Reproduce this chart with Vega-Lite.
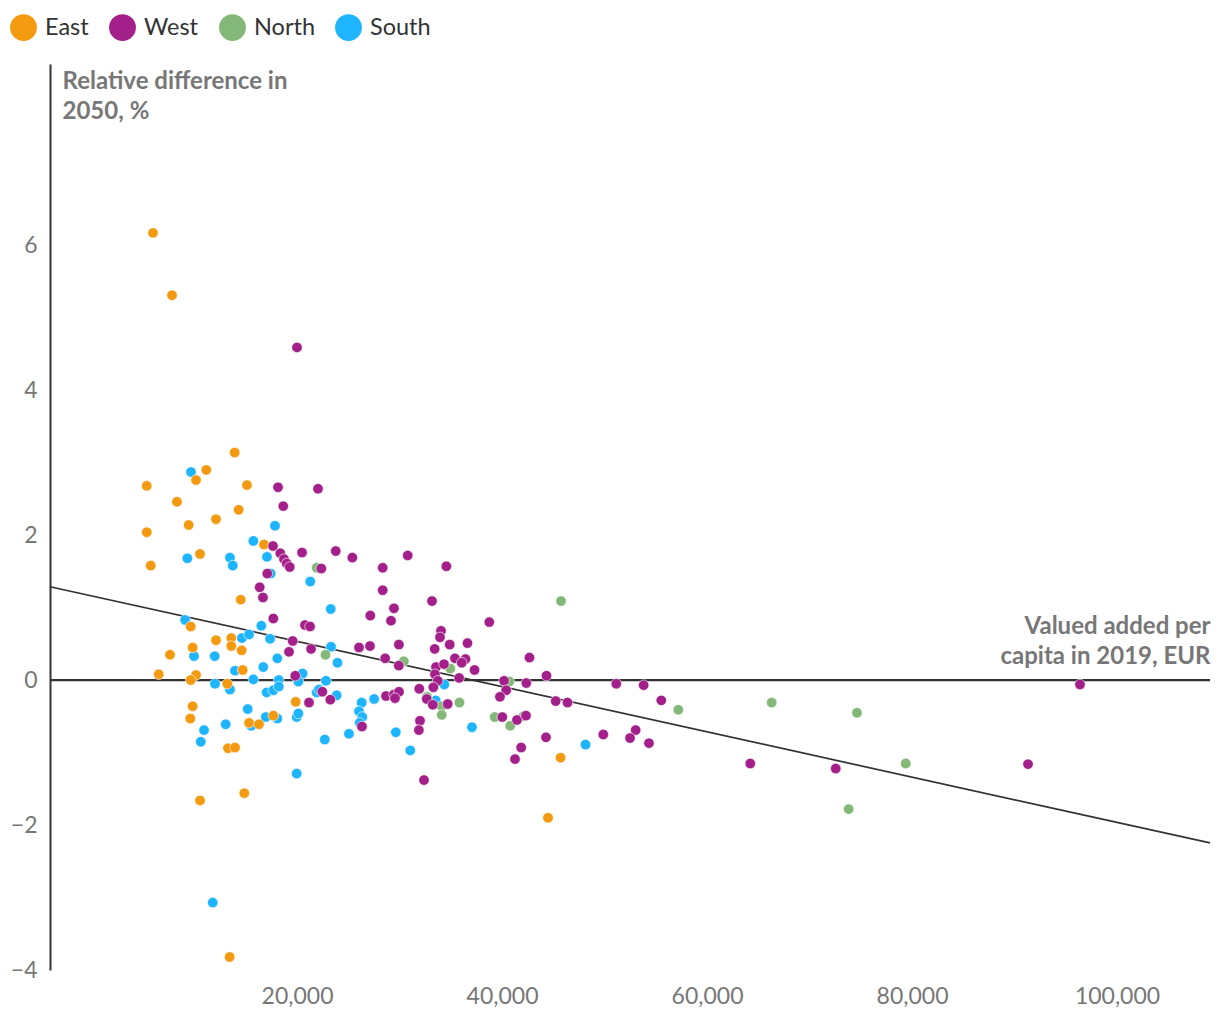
{
  "$schema": "https://vega.github.io/schema/vega-lite/v6.json",
  "width": 1160,
  "height": 906,
  "autosize": {"type": "none"},
  "padding": {"left": 50, "top": 64, "right": 10, "bottom": 52},
  "background": "white",
  "config": {
    "font": "Lato",
    "view": {"stroke": null},
    "axis": {
      "grid": false, "ticks": false, "tickSize": 0,
      "labelFont": "Lato", "labelFontSize": 23, "labelColor": "#777",
      "titleFont": "Lato", "titleFontSize": 24, "titleFontWeight": "bold", "titleColor": "#777"
    }
  },
  "datasets": {
    "zero": [
      {"value_added": -4098, "value_added_end": 109073, "rel_diff": 0}
    ],
    "fit": [
      {"value_added": -4098, "rel_diff": 1.288},
      {"value_added": 109073, "rel_diff": -2.247}
    ],
    "points": [
      {"region":"South","value_added":9660,"rel_diff":2.87},
      {"region":"South","value_added":17850,"rel_diff":2.13},
      {"region":"South","value_added":15740,"rel_diff":1.92},
      {"region":"South","value_added":9300,"rel_diff":1.68},
      {"region":"South","value_added":13460,"rel_diff":1.69},
      {"region":"South","value_added":13730,"rel_diff":1.58},
      {"region":"South","value_added":17070,"rel_diff":1.70},
      {"region":"South","value_added":17430,"rel_diff":1.47},
      {"region":"South","value_added":21290,"rel_diff":1.36},
      {"region":"South","value_added":23290,"rel_diff":0.98},
      {"region":"South","value_added":9090,"rel_diff":0.83},
      {"region":"South","value_added":16520,"rel_diff":0.75},
      {"region":"South","value_added":14630,"rel_diff":0.58},
      {"region":"South","value_added":15320,"rel_diff":0.63},
      {"region":"South","value_added":17370,"rel_diff":0.57},
      {"region":"South","value_added":9950,"rel_diff":0.33},
      {"region":"South","value_added":11970,"rel_diff":0.33},
      {"region":"South","value_added":18080,"rel_diff":0.30},
      {"region":"South","value_added":16710,"rel_diff":0.18},
      {"region":"South","value_added":23320,"rel_diff":0.46},
      {"region":"South","value_added":23950,"rel_diff":0.24},
      {"region":"South","value_added":13950,"rel_diff":0.13},
      {"region":"South","value_added":15740,"rel_diff":0.01},
      {"region":"South","value_added":18220,"rel_diff":0.0},
      {"region":"South","value_added":20540,"rel_diff":0.09},
      {"region":"South","value_added":20130,"rel_diff":-0.02},
      {"region":"South","value_added":22830,"rel_diff":-0.01},
      {"region":"South","value_added":12000,"rel_diff":-0.05},
      {"region":"South","value_added":13460,"rel_diff":-0.13},
      {"region":"South","value_added":17040,"rel_diff":-0.17},
      {"region":"South","value_added":17690,"rel_diff":-0.14},
      {"region":"South","value_added":18220,"rel_diff":-0.09},
      {"region":"South","value_added":21920,"rel_diff":-0.17},
      {"region":"South","value_added":22150,"rel_diff":-0.13},
      {"region":"South","value_added":23870,"rel_diff":-0.21},
      {"region":"South","value_added":26310,"rel_diff":-0.31},
      {"region":"South","value_added":27530,"rel_diff":-0.26},
      {"region":"South","value_added":26050,"rel_diff":-0.43},
      {"region":"South","value_added":26370,"rel_diff":-0.51},
      {"region":"South","value_added":26120,"rel_diff":-0.59},
      {"region":"South","value_added":34370,"rel_diff":-0.06},
      {"region":"South","value_added":33530,"rel_diff":-0.28},
      {"region":"South","value_added":37070,"rel_diff":-0.65},
      {"region":"South","value_added":15190,"rel_diff":-0.40},
      {"region":"South","value_added":13040,"rel_diff":-0.61},
      {"region":"South","value_added":16950,"rel_diff":-0.51},
      {"region":"South","value_added":18080,"rel_diff":-0.53},
      {"region":"South","value_added":19970,"rel_diff":-0.51},
      {"region":"South","value_added":20130,"rel_diff":-0.46},
      {"region":"South","value_added":15540,"rel_diff":-0.63},
      {"region":"South","value_added":10930,"rel_diff":-0.69},
      {"region":"South","value_added":10610,"rel_diff":-0.85},
      {"region":"South","value_added":22710,"rel_diff":-0.82},
      {"region":"South","value_added":25070,"rel_diff":-0.74},
      {"region":"South","value_added":29640,"rel_diff":-0.72},
      {"region":"South","value_added":31050,"rel_diff":-0.97},
      {"region":"South","value_added":48150,"rel_diff":-0.89},
      {"region":"South","value_added":19970,"rel_diff":-1.29},
      {"region":"South","value_added":11780,"rel_diff":-3.07},
      {"region":"East","value_added":5950,"rel_diff":6.17},
      {"region":"East","value_added":7810,"rel_diff":5.31},
      {"region":"East","value_added":13920,"rel_diff":3.14},
      {"region":"East","value_added":11150,"rel_diff":2.90},
      {"region":"East","value_added":10150,"rel_diff":2.76},
      {"region":"East","value_added":5340,"rel_diff":2.68},
      {"region":"East","value_added":15120,"rel_diff":2.69},
      {"region":"East","value_added":8290,"rel_diff":2.46},
      {"region":"East","value_added":14310,"rel_diff":2.35},
      {"region":"East","value_added":12100,"rel_diff":2.22},
      {"region":"East","value_added":9430,"rel_diff":2.14},
      {"region":"East","value_added":5340,"rel_diff":2.04},
      {"region":"East","value_added":16780,"rel_diff":1.87},
      {"region":"East","value_added":10540,"rel_diff":1.74},
      {"region":"East","value_added":5730,"rel_diff":1.58},
      {"region":"East","value_added":14510,"rel_diff":1.11},
      {"region":"East","value_added":9630,"rel_diff":0.74},
      {"region":"East","value_added":12100,"rel_diff":0.55},
      {"region":"East","value_added":13590,"rel_diff":0.58},
      {"region":"East","value_added":13590,"rel_diff":0.47},
      {"region":"East","value_added":9820,"rel_diff":0.45},
      {"region":"East","value_added":7610,"rel_diff":0.35},
      {"region":"East","value_added":14600,"rel_diff":0.41},
      {"region":"East","value_added":6510,"rel_diff":0.08},
      {"region":"East","value_added":10150,"rel_diff":0.07},
      {"region":"East","value_added":9630,"rel_diff":0.0},
      {"region":"East","value_added":14700,"rel_diff":0.14},
      {"region":"East","value_added":13200,"rel_diff":-0.05},
      {"region":"East","value_added":19870,"rel_diff":-0.30},
      {"region":"East","value_added":9820,"rel_diff":-0.36},
      {"region":"East","value_added":9590,"rel_diff":-0.53},
      {"region":"East","value_added":17690,"rel_diff":-0.49},
      {"region":"East","value_added":15320,"rel_diff":-0.59},
      {"region":"East","value_added":16290,"rel_diff":-0.61},
      {"region":"East","value_added":13270,"rel_diff":-0.94},
      {"region":"East","value_added":13950,"rel_diff":-0.93},
      {"region":"East","value_added":14860,"rel_diff":-1.56},
      {"region":"East","value_added":10540,"rel_diff":-1.66},
      {"region":"East","value_added":13430,"rel_diff":-3.82},
      {"region":"East","value_added":45710,"rel_diff":-1.07},
      {"region":"East","value_added":44490,"rel_diff":-1.90},
      {"region":"North","value_added":21920,"rel_diff":1.55},
      {"region":"North","value_added":45760,"rel_diff":1.09},
      {"region":"North","value_added":22780,"rel_diff":0.35},
      {"region":"North","value_added":30420,"rel_diff":0.26},
      {"region":"North","value_added":34950,"rel_diff":0.16},
      {"region":"North","value_added":40710,"rel_diff":-0.02},
      {"region":"North","value_added":32680,"rel_diff":-0.23},
      {"region":"North","value_added":35850,"rel_diff":-0.31},
      {"region":"North","value_added":34120,"rel_diff":-0.36},
      {"region":"North","value_added":34120,"rel_diff":-0.48},
      {"region":"North","value_added":39290,"rel_diff":-0.51},
      {"region":"North","value_added":40800,"rel_diff":-0.63},
      {"region":"North","value_added":42080,"rel_diff":-0.50},
      {"region":"North","value_added":57200,"rel_diff":-0.41},
      {"region":"North","value_added":66310,"rel_diff":-0.31},
      {"region":"North","value_added":74630,"rel_diff":-0.45},
      {"region":"North","value_added":79390,"rel_diff":-1.15},
      {"region":"North","value_added":73820,"rel_diff":-1.78},
      {"region":"West","value_added":20000,"rel_diff":4.59},
      {"region":"West","value_added":18150,"rel_diff":2.66},
      {"region":"West","value_added":22050,"rel_diff":2.64},
      {"region":"West","value_added":18660,"rel_diff":2.40},
      {"region":"West","value_added":17660,"rel_diff":1.85},
      {"region":"West","value_added":18370,"rel_diff":1.75},
      {"region":"West","value_added":20490,"rel_diff":1.76},
      {"region":"West","value_added":18730,"rel_diff":1.67},
      {"region":"West","value_added":19000,"rel_diff":1.61},
      {"region":"West","value_added":19290,"rel_diff":1.56},
      {"region":"West","value_added":17100,"rel_diff":1.47},
      {"region":"West","value_added":22370,"rel_diff":1.54},
      {"region":"West","value_added":16360,"rel_diff":1.28},
      {"region":"West","value_added":16680,"rel_diff":1.14},
      {"region":"West","value_added":17690,"rel_diff":0.85},
      {"region":"West","value_added":23780,"rel_diff":1.78},
      {"region":"West","value_added":25400,"rel_diff":1.69},
      {"region":"West","value_added":30800,"rel_diff":1.72},
      {"region":"West","value_added":34570,"rel_diff":1.57},
      {"region":"West","value_added":28360,"rel_diff":1.55},
      {"region":"West","value_added":28360,"rel_diff":1.24},
      {"region":"West","value_added":33170,"rel_diff":1.09},
      {"region":"West","value_added":29460,"rel_diff":0.99},
      {"region":"West","value_added":27150,"rel_diff":0.89},
      {"region":"West","value_added":29170,"rel_diff":0.82},
      {"region":"West","value_added":38760,"rel_diff":0.80},
      {"region":"West","value_added":20780,"rel_diff":0.76},
      {"region":"West","value_added":21270,"rel_diff":0.74},
      {"region":"West","value_added":34050,"rel_diff":0.68},
      {"region":"West","value_added":33950,"rel_diff":0.59},
      {"region":"West","value_added":26050,"rel_diff":0.45},
      {"region":"West","value_added":27120,"rel_diff":0.47},
      {"region":"West","value_added":29940,"rel_diff":0.49},
      {"region":"West","value_added":34900,"rel_diff":0.49},
      {"region":"West","value_added":36630,"rel_diff":0.51},
      {"region":"West","value_added":21370,"rel_diff":0.43},
      {"region":"West","value_added":28600,"rel_diff":0.30},
      {"region":"West","value_added":29930,"rel_diff":0.20},
      {"region":"West","value_added":35410,"rel_diff":0.30},
      {"region":"West","value_added":36440,"rel_diff":0.29},
      {"region":"West","value_added":36070,"rel_diff":0.24},
      {"region":"West","value_added":33430,"rel_diff":0.43},
      {"region":"West","value_added":33560,"rel_diff":0.18},
      {"region":"West","value_added":34340,"rel_diff":0.22},
      {"region":"West","value_added":37320,"rel_diff":0.14},
      {"region":"West","value_added":42680,"rel_diff":0.31},
      {"region":"West","value_added":33460,"rel_diff":0.08},
      {"region":"West","value_added":35820,"rel_diff":0.03},
      {"region":"West","value_added":44340,"rel_diff":0.06},
      {"region":"West","value_added":33730,"rel_diff":-0.01},
      {"region":"West","value_added":40200,"rel_diff":-0.01},
      {"region":"West","value_added":42370,"rel_diff":-0.04},
      {"region":"West","value_added":33300,"rel_diff":-0.10},
      {"region":"West","value_added":31930,"rel_diff":-0.12},
      {"region":"West","value_added":22470,"rel_diff":-0.16},
      {"region":"West","value_added":21170,"rel_diff":-0.31},
      {"region":"West","value_added":23250,"rel_diff":-0.27},
      {"region":"West","value_added":28680,"rel_diff":-0.22},
      {"region":"West","value_added":29460,"rel_diff":-0.20},
      {"region":"West","value_added":29950,"rel_diff":-0.16},
      {"region":"West","value_added":29560,"rel_diff":-0.25},
      {"region":"West","value_added":40410,"rel_diff":-0.14},
      {"region":"West","value_added":39800,"rel_diff":-0.23},
      {"region":"West","value_added":32660,"rel_diff":-0.26},
      {"region":"West","value_added":33250,"rel_diff":-0.34},
      {"region":"West","value_added":34700,"rel_diff":-0.33},
      {"region":"West","value_added":45240,"rel_diff":-0.29},
      {"region":"West","value_added":46390,"rel_diff":-0.31},
      {"region":"West","value_added":26340,"rel_diff":-0.64},
      {"region":"West","value_added":40030,"rel_diff":-0.51},
      {"region":"West","value_added":41460,"rel_diff":-0.55},
      {"region":"West","value_added":42340,"rel_diff":-0.49},
      {"region":"West","value_added":32000,"rel_diff":-0.56},
      {"region":"West","value_added":31890,"rel_diff":-0.69},
      {"region":"West","value_added":44290,"rel_diff":-0.79},
      {"region":"West","value_added":41870,"rel_diff":-0.93},
      {"region":"West","value_added":41270,"rel_diff":-1.09},
      {"region":"West","value_added":49880,"rel_diff":-0.75},
      {"region":"West","value_added":32390,"rel_diff":-1.38},
      {"region":"West","value_added":51150,"rel_diff":-0.05},
      {"region":"West","value_added":53820,"rel_diff":-0.07},
      {"region":"West","value_added":55540,"rel_diff":-0.28},
      {"region":"West","value_added":53040,"rel_diff":-0.69},
      {"region":"West","value_added":52490,"rel_diff":-0.80},
      {"region":"West","value_added":54340,"rel_diff":-0.87},
      {"region":"West","value_added":64220,"rel_diff":-1.15},
      {"region":"West","value_added":72560,"rel_diff":-1.22},
      {"region":"West","value_added":91320,"rel_diff":-1.16},
      {"region":"West","value_added":96390,"rel_diff":-0.06},
      {"region":"West","value_added":19580,"rel_diff":0.54},
      {"region":"West","value_added":19220,"rel_diff":0.39},
      {"region":"West","value_added":19830,"rel_diff":0.06}
    ]
  },
  "encoding": {
    "x": {
      "field": "value_added", "type": "quantitative",
      "scale": {"domain": [-4098, 109073], "nice": false, "zero": false},
      "axis": {
        "values": [20000, 40000, 60000, 80000, 100000],
        "format": ",.0f",
        "domain": false,
        "labelPadding": 15,
        "labelFlush": false,
        "title": ["Valued added per", "capita in 2019, EUR"],
        "titleAngle": 0,
        "titleAlign": "right",
        "titleBaseline": "top",
        "titleX": 1160,
        "titleY": -356,
        "titleLineHeight": 30
      }
    },
    "y": {
      "field": "rel_diff", "type": "quantitative",
      "scale": {"domain": [-4, 8.5], "nice": false, "zero": false},
      "axis": {
        "values": [-4, -2, 0, 2, 4, 6],
        "format": "d",
        "domainColor": "#333",
        "domainWidth": 2,
        "labelPadding": 13,
        "title": ["Relative difference in", "2050, %"],
        "titleAngle": 0,
        "titleAlign": "left",
        "titleBaseline": "top",
        "titleX": 12,
        "titleY": 5,
        "titleLineHeight": 30
      }
    }
  },
  "layer": [
    {
      "data": {"name": "zero"},
      "mark": {"type": "rule", "color": "#333", "strokeWidth": 2.2},
      "encoding": {"x2": {"field": "value_added_end"}}
    },
    {
      "data": {"name": "fit"},
      "mark": {"type": "line", "color": "#333", "strokeWidth": 1.7}
    },
    {
      "data": {"name": "points"},
      "mark": {"type": "point", "shape": "circle", "filled": true, "opacity": 1, "size": 110, "stroke": "#ffffff", "strokeWidth": 0.6},
      "encoding": {
        "color": {
          "field": "region", "type": "nominal",
          "scale": {"domain": ["East", "West", "North", "South"], "range": ["#f39a10", "#a3208a", "#83b878", "#1fb4fe"]},
          "legend": {
            "orient": "none", "legendX": -40, "legendY": -50,
            "direction": "horizontal", "title": null,
            "symbolType": "circle", "symbolSize": 720, "symbolStrokeWidth": 0, "symbolOpacity": 1,
            "labelFont": "Lato", "labelFontSize": 23.5, "labelColor": "#333",
            "labelOffset": 8, "columnPadding": 20, "padding": 0
          }
        }
      }
    }
  ]
}
